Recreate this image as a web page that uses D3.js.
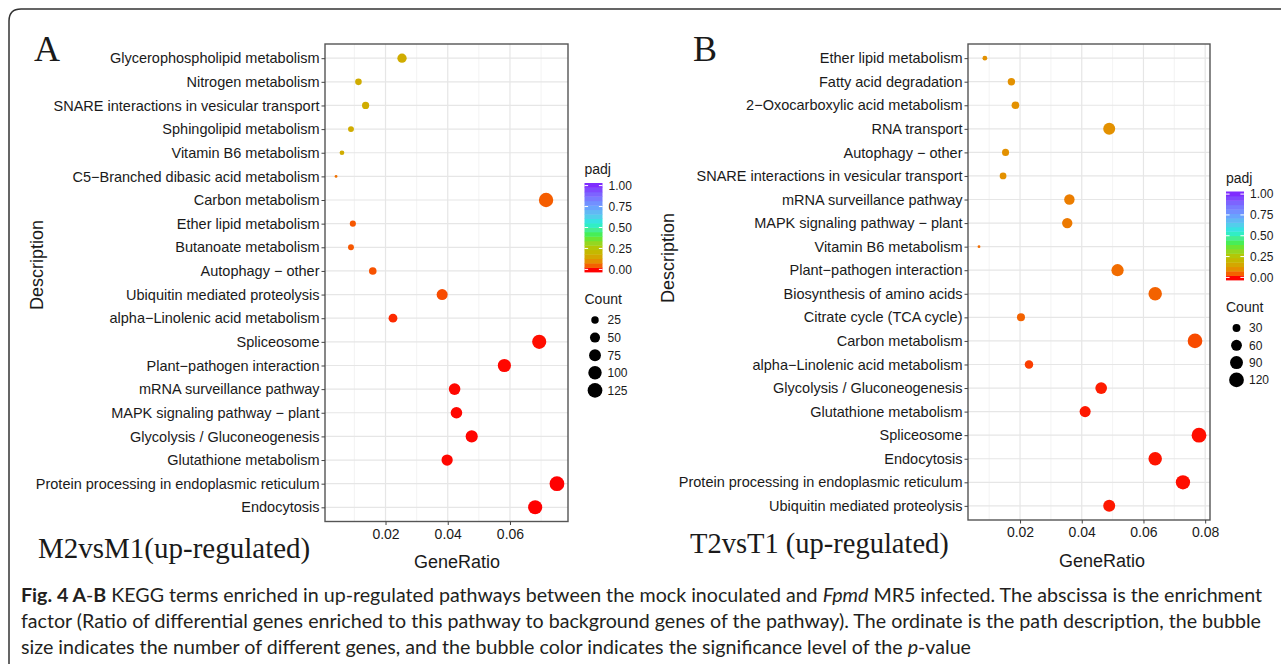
<!DOCTYPE html>
<html>
<head>
<meta charset="utf-8">
<script src="https://cdn.jsdelivr.net/npm/d3@7"></script>
<style>
  body { margin: 0; background: #fff; }
  svg text { font-family: "Liberation Sans", Arial, sans-serif; fill: #1a1a1a; }
  .serif { font-family: "Liberation Serif", "Times New Roman", serif !important; }
  .cap { font-family: "Lato", "Noto Sans", sans-serif !important; fill: #231f20; }
</style>
</head>
<body>
<svg id="fig" width="1281" height="664"></svg>
<script>
// ---- panel A : M2vsM1 (top to bottom)
var leftTerms = [
    "Glycerophospholipid metabolism", "Nitrogen metabolism",
    "SNARE interactions in vesicular transport", "Sphingolipid metabolism",
    "Vitamin B6 metabolism", "C5\u2212Branched dibasic acid metabolism",
    "Carbon metabolism", "Ether lipid metabolism", "Butanoate metabolism",
    "Autophagy \u2212 other", "Ubiquitin mediated proteolysis",
    "alpha\u2212Linolenic acid metabolism", "Spliceosome",
    "Plant\u2212pathogen interaction", "mRNA surveillance pathway",
    "MAPK signaling pathway \u2212 plant", "Glycolysis / Gluconeogenesis",
    "Glutathione metabolism", "Protein processing in endoplasmic reticulum",
    "Endocytosis"
];
var leftRatio = [0.0253, 0.0113, 0.0136, 0.0089, 0.0060, 0.0041, 0.0716, 0.0095, 0.0089, 0.0159,
                 0.0382, 0.0224, 0.0694, 0.0582, 0.0422, 0.0428, 0.0477, 0.0398, 0.0751, 0.0681];
var leftCount = [42, 19, 23, 15, 10, 7, 118, 16, 15, 26, 63, 37, 114, 96, 70, 71, 79, 66, 126, 112];
var leftPadj = [0.17, 0.17, 0.17, 0.17, 0.17, 0.065, 0.045, 0.04, 0.04, 0.035,
                0.03, 0.01, 0.002, 0.001, 0.001, 0.001, 0.0005, 0.001, 0, 0];
var leftCountBreaks = [25, 50, 75, 100, 125];
var leftTicks = [0.02, 0.04, 0.06];

// ---- panel B : T2vsT1
var rightTerms = [
    "Ether lipid metabolism", "Fatty acid degradation",
    "2\u2212Oxocarboxylic acid metabolism", "RNA transport", "Autophagy \u2212 other",
    "SNARE interactions in vesicular transport", "mRNA surveillance pathway",
    "MAPK signaling pathway \u2212 plant", "Vitamin B6 metabolism",
    "Plant\u2212pathogen interaction", "Biosynthesis of amino acids",
    "Citrate cycle (TCA cycle)", "Carbon metabolism",
    "alpha\u2212Linolenic acid metabolism", "Glycolysis / Gluconeogenesis",
    "Glutathione metabolism", "Spliceosome", "Endocytosis",
    "Protein processing in endoplasmic reticulum", "Ubiquitin mediated proteolysis"
];
var rightRatio = [0.0086, 0.0172, 0.0185, 0.0489, 0.0153, 0.0145, 0.0360, 0.0353, 0.0067, 0.0516,
                  0.0638, 0.0203, 0.0767, 0.0229, 0.0463, 0.0411, 0.0780, 0.0638, 0.0728, 0.0489];
var rightCount = [13, 26, 28, 75, 24, 22, 55, 54, 10, 79, 98, 31, 118, 35, 71, 63, 121, 98, 112, 75];
var rightPadj = [0.105, 0.105, 0.105, 0.105, 0.105, 0.105, 0.08, 0.075, 0.06, 0.06,
                 0.05, 0.05, 0.03, 0.02, 0.005, 0.004, 0.002, 0.003, 0.002, 0.004];
var rightCountBreaks = [30, 60, 90, 120];
var rightTicks = [0.02, 0.04, 0.06, 0.08];

// padj colour bar
var padjBreaks = [0, 0.25, 0.5, 0.75, 1];
var padjStops = [0, 0.12, 0.25, 0.4, 0.55, 0.75, 1];
var padjColors = ["#ff0000", "#dd9c00", "#b8c400", "#44ee3a", "#14eedc", "#6aa0ff", "#7f2cff"];

var color = d3.scaleLinear().domain(padjStops).range(padjColors).interpolate(d3.interpolateLab);

var svg = d3.select("#fig");

// outer frame, rounded top-left corner
svg.append("path")
    .attr("d", "M9,664 V21 Q9,9 21,9 H1281")
    .attr("fill", "none").attr("stroke", "#333").attr("stroke-width", 1.5);

function drawPanel(p) {
    var g = svg.append("g");
    var xPad = (d3.max(p.ratio) - d3.min(p.ratio)) * 0.05;
    var x = d3.scaleLinear()
        .domain([d3.min(p.ratio) - xPad, d3.max(p.ratio) + xPad])
        .range([p.left, p.right]);
    var y = d3.scalePoint().domain(p.terms).range([p.top, p.bottom]).padding(0.6);

    // ggplot-like area size scale
    var norm = d3.scaleLinear().domain(d3.extent(p.count)).range([0, 1]).clamp(true);
    var rad = d3.scaleSqrt().domain([0, 1]).range([1.4, 7.4]);
    var r = function (c) { return rad(norm(c)); };

    // grid
    var minor = d3.range(0.01, x.domain()[1], 0.02);
    g.selectAll(".minor").data(minor).enter().append("line")
        .attr("x1", x).attr("x2", x).attr("y1", p.top).attr("y2", p.bottom)
        .attr("stroke", "#f0f0f0").attr("stroke-width", 0.8);
    g.selectAll(".major").data(p.ticks).enter().append("line")
        .attr("x1", x).attr("x2", x).attr("y1", p.top).attr("y2", p.bottom)
        .attr("stroke", "#e6e6e6").attr("stroke-width", 1.2);
    g.selectAll(".hgrid").data(p.terms).enter().append("line")
        .attr("x1", p.left).attr("x2", p.right).attr("y1", y).attr("y2", y)
        .attr("stroke", "#e6e6e6").attr("stroke-width", 1.2);

    // points
    g.selectAll(".pt").data(p.terms).enter().append("circle")
        .attr("cx", function (d, i) { return x(p.ratio[i]); })
        .attr("cy", y)
        .attr("r", function (d, i) { return r(p.count[i]); })
        .attr("fill", function (d, i) { return color(p.padj[i]); });

    // panel border
    g.append("rect")
        .attr("x", p.left).attr("y", p.top)
        .attr("width", p.right - p.left).attr("height", p.bottom - p.top)
        .attr("fill", "none").attr("stroke", "#555").attr("stroke-width", 1.4);

    // axes
    var ya = g.append("g").attr("transform", "translate(" + p.left + ",0)")
        .call(d3.axisLeft(y).tickSize(3.5).tickPadding(2));
    var xa = g.append("g").attr("transform", "translate(0," + p.bottom + ")")
        .call(d3.axisBottom(x).tickValues(p.ticks).tickSize(3.5).tickPadding(4)
            .tickFormat(d3.format(".2f")));
    [ya, xa].forEach(function (a) {
        a.select(".domain").remove();
        a.selectAll(".tick line").attr("stroke", "#444");
        a.selectAll("text").attr("font-size", 14).attr("fill", "#1a1a1a");
    });
    ya.selectAll("text").attr("font-size", 14.5);

    g.append("text").attr("x", p.xTitleX).attr("y", p.xTitleY)
        .attr("text-anchor", "middle").attr("font-size", 18).text("GeneRatio");
    g.append("text")
        .attr("transform", "translate(" + p.yTitleX + "," + p.yTitleY + ") rotate(-90)")
        .attr("text-anchor", "middle").attr("font-size", 18).text("Description");

    g.append("text").attr("class", "serif").attr("x", p.letterX).attr("y", 61)
        .attr("font-size", 36).text(p.letter);
    g.append("text").attr("class", "serif").attr("x", p.titleX).attr("y", p.titleY)
        .attr("font-size", p.titleSize).text(p.title);

    // padj colour bar
    var lg = g.append("g");
    lg.append("text").attr("x", p.legX).attr("y", p.barTop - 9)
        .attr("font-size", 14).text("padj");
    var barY = d3.scaleLinear().domain([0, 1]).range([p.barBottom - 2.6, p.barTop + 2.6]);
    var nb = 20, bh = (p.barBottom - p.barTop) / nb;
    lg.selectAll(".bin").data(d3.range(nb)).enter().append("rect")
        .attr("x", p.legX).attr("width", 18)
        .attr("y", function (i) { return p.barBottom - (i + 1) * bh; })
        .attr("height", bh + 0.4)
        .attr("fill", function (i) { return color(Math.min(1, Math.max(0, barY.invert(p.barBottom - (i + 0.5) * bh)))); });
    padjBreaks.forEach(function (b) {
        [[p.legX, p.legX + 3.6], [p.legX + 14.4, p.legX + 18]].forEach(function (s) {
            lg.append("line").attr("x1", s[0]).attr("x2", s[1])
                .attr("y1", barY(b)).attr("y2", barY(b))
                .attr("stroke", "#fff").attr("stroke-width", 1);
        });
        lg.append("text").attr("x", p.legX + 24).attr("y", barY(b)).attr("dy", "0.36em")
            .attr("font-size", 12).text(d3.format(".2f")(b));
    });

    // count legend
    lg.append("text").attr("x", p.legX).attr("y", p.countTitleY)
        .attr("font-size", 14).text("Count");
    var ly = d3.scalePoint().domain(p.countBreaks)
        .range([p.countTitleY + 16.5, p.countTitleY + 16.5 + (p.countBreaks.length - 1) * p.countStep]);
    lg.selectAll(".key").data(p.countBreaks).enter().append("circle")
        .attr("cx", p.legX + 10.5).attr("cy", ly).attr("r", r).attr("fill", "#000");
    lg.selectAll(".keyt").data(p.countBreaks).enter().append("text")
        .attr("x", p.legX + 23).attr("y", ly).attr("dy", "0.36em")
        .attr("font-size", 12).text(function (d) { return d; });
}

drawPanel({
    terms: leftTerms, ratio: leftRatio, count: leftCount, padj: leftPadj,
    countBreaks: leftCountBreaks, ticks: leftTicks,
    left: 325, right: 568, top: 44, bottom: 521.5,
    xTitleX: 457, xTitleY: 567.5, yTitleX: 43, yTitleY: 265,
    letter: "A", letterX: 34, title: "M2vsM1(up-regulated)", titleX: 38, titleY: 558, titleSize: 29,
    legX: 584.5, barTop: 183, barBottom: 272, countTitleY: 303.5, countStep: 17.6
});

drawPanel({
    terms: rightTerms, ratio: rightRatio, count: rightCount, padj: rightPadj,
    countBreaks: rightCountBreaks, ticks: rightTicks,
    left: 968, right: 1210, top: 44, bottom: 520,
    xTitleX: 1102, xTitleY: 567, yTitleX: 674, yTitleY: 258,
    letter: "B", letterX: 693, title: "T2vsT1 (up-regulated)", titleX: 690, titleY: 553, titleSize: 28.5,
    legX: 1226, barTop: 191.5, barBottom: 280, countTitleY: 311.5, countStep: 17.3
});

// caption
var capLines = [
    { y: 602, len: 1241, parts: [
        ["Fig. 4  A", "bold"], ["-", ""], ["B", "bold"],
        [" KEGG terms enriched in up-regulated pathways between the mock inoculated and ", ""],
        ["Fpmd", "italic"],
        [" MR5 infected. The abscissa is the enrichment", ""]] },
    { y: 628, len: 1240, parts: [
        ["factor (Ratio of differential genes enriched to this pathway to background genes of the pathway). The ordinate is the path description, the bubble", ""]] },
    { y: 654, len: 950, parts: [
        ["size indicates the number of different genes, and the bubble color indicates the significance level of the ", ""],
        ["p", "italic"], ["-value", ""]] }
];
capLines.forEach(function (l) {
    var t = svg.append("text").attr("class", "cap").attr("x", 21).attr("y", l.y)
        .attr("font-size", 18.5).attr("textLength", l.len).attr("lengthAdjust", "spacingAndGlyphs");
    l.parts.forEach(function (s) {
        var ts = t.append("tspan").text(s[0]);
        if (s[1] === "bold") ts.attr("font-weight", "bold");
        if (s[1] === "italic") ts.attr("font-style", "italic");
    });
});
</script>
</body>
</html>
